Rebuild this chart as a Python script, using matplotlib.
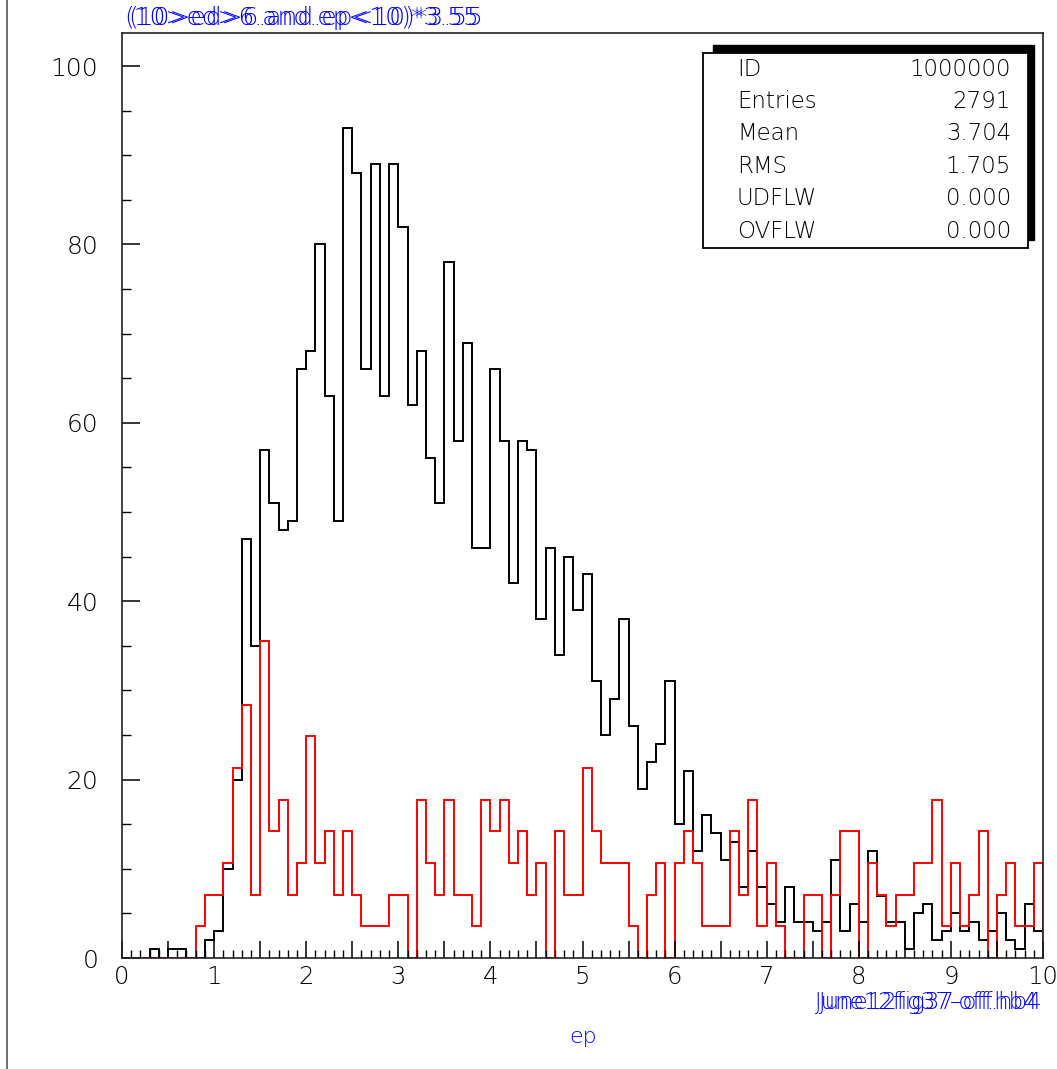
import matplotlib
matplotlib.use("Agg")
import matplotlib.pyplot as plt
import numpy as np
from matplotlib.patches import Rectangle
from matplotlib.lines import Line2D
from matplotlib.ticker import MultipleLocator, FuncFormatter

# histogram 1000000: 100 bins of ep from 0 to 10
edges = np.linspace(0, 10, 101)
counts_all = [0, 0, 0, 1, 0, 1, 1, 0, 0, 2,
              3, 10, 20, 47, 35, 57, 51, 48, 49, 66,
              68, 80, 63, 49, 93, 88, 66, 89, 63, 89,
              82, 62, 68, 56, 51, 78, 58, 69, 46, 46,
              66, 58, 42, 58, 57, 38, 46, 34, 45, 39,
              43, 31, 25, 29, 38, 26, 19, 22, 24, 31,
              15, 21, 12, 16, 14, 11, 13, 8, 12, 8,
              6, 4, 8, 4, 4, 3, 4, 11, 3, 6,
              4, 12, 7, 4, 4, 1, 5, 6, 2, 3,
              5, 3, 4, 2, 3, 5, 2, 1, 6, 3]

# second selection, plotted after scaling by 3.55
scale = 3.55
counts_cut = [0, 0, 0, 0, 0, 0, 0, 0, 1, 2,
              2, 3, 6, 8, 2, 10, 4, 5, 2, 3,
              7, 3, 4, 2, 4, 2, 1, 1, 1, 2,
              2, 0, 5, 3, 2, 5, 2, 2, 1, 5,
              4, 5, 3, 4, 2, 3, 0, 4, 2, 2,
              6, 4, 3, 3, 3, 1, 0, 2, 3, 0,
              3, 4, 3, 1, 1, 1, 4, 2, 5, 1,
              3, 1, 0, 0, 2, 2, 0, 2, 4, 4,
              0, 3, 2, 1, 2, 2, 3, 3, 5, 1,
              3, 1, 2, 4, 0, 2, 3, 1, 1, 3]

stat_names = ["ID", "Entries", "Mean", "RMS", "UDFLW", "OVFLW"]
stat_values = ["1000000", "2791", "3.704", "1.705", "0.000", "0.000"]

title_text = "(10>ed>6.and.ep<10)*3.55"
file_text = "June12fig37-off.hb4"

W, H = 1057, 1069
fig = plt.figure(figsize=(W / 100, H / 100), dpi=100)
plt.rcParams['font.family'] = ['DejaVu Sans']

ax = fig.add_axes([122 / W, 1 - 958 / H, (1043 - 122) / W, (958 - 33) / H])
ax.stairs(counts_all, edges, color="black", lw=1.4, baseline=0)
ax.stairs(np.array(counts_cut) * scale, edges, color="red", lw=1.4, baseline=0)

ax.set_xlim(0, 10)
ax.set_ylim(0, 103.7)
for s in ax.spines.values():
    s.set_linewidth(1.2)
    s.set_color("#222222")

ax.xaxis.set_major_locator(MultipleLocator(0.5))
ax.xaxis.set_minor_locator(MultipleLocator(0.1))
ax.xaxis.set_major_formatter(FuncFormatter(lambda v, p: f"{v:.0f}" if abs(v - round(v)) < 1e-6 else ""))
ax.yaxis.set_major_locator(MultipleLocator(20))
ax.yaxis.set_minor_locator(MultipleLocator(5))
ax.tick_params(axis="x", which="major", direction="in", length=12, width=1.1,
               labelsize=17.5, pad=5, top=False)
ax.tick_params(axis="x", which="minor", direction="in", length=6, width=1.0, top=False)
ax.tick_params(axis="y", which="major", direction="in", length=13, width=1.1,
               labelsize=18, pad=17, right=False)
ax.tick_params(axis="y", which="minor", direction="in", length=6.5, width=1.0, right=False)
for lab in ax.get_xticklabels() + ax.get_yticklabels():
    lab.set_fontweight("light")

# statistics box with drop shadow
def px(x, y):
    return x / W, 1 - y / H

sx0, sy0 = px(713, 240)
fig.add_artist(Rectangle((sx0, sy0), (1034 - 713) / W, (240 - 45) / H,
                         transform=fig.transFigure, facecolor="black",
                         edgecolor="black", zorder=5))
bx0, by0 = px(703, 248)
fig.add_artist(Rectangle((bx0, by0), (1028 - 703) / W, (248 - 53) / H,
                         transform=fig.transFigure, facecolor="white",
                         edgecolor="black", lw=1.3, zorder=6))
for i, (name, val) in enumerate(zip(stat_names, stat_values)):
    yc = 69 + i * 32.4
    fig.text(*px(737, yc), name, fontsize=16.5, fontweight="light",
             ha="left", va="center", zorder=7)
    fig.text(*px(1011, yc), val, fontsize=16.5, fontweight="light",
             ha="right", va="center", zorder=7)

# titles (drawn twice, slightly shifted, as the overlaid labels)
for dx in (0, 4):
    fig.text(*px(124 + dx, 18), title_text, fontsize=18, color="blue",
             fontweight="light", ha="left", va="center")
for dx in (0, 4):
    fig.text(*px(1043 - dx, 1003), file_text, fontsize=16.5, color="blue",
             fontweight="light", ha="right", va="center")
fig.text(*px(583, 1037), "ep", fontsize=16, color="blue",
         fontweight="light", ha="center", va="center")

# page border on the left
fig.add_artist(Line2D([7 / W, 7 / W], [0, 1], transform=fig.transFigure,
                      color="#555555", lw=1.2))

fig.savefig("out.png", dpi=100)
